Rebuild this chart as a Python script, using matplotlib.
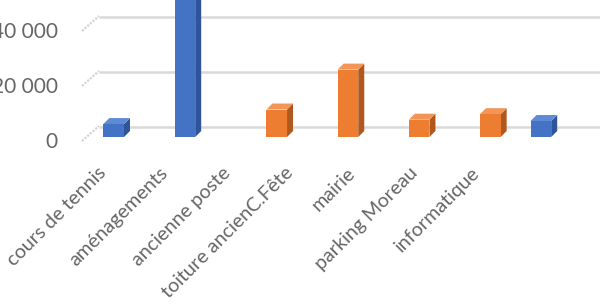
import matplotlib
matplotlib.use("Agg")
import matplotlib.pyplot as plt
import numpy as np
from matplotlib.transforms import ScaledTranslation

# ---- data ----
categories = ["cours de tennis", "aménagements", "ancienne poste",
              "toiture ancienC.Fête", "mairie", "parking Moreau", "informatique"]
blue_values = [4700, 56000, np.nan, np.nan, np.nan, np.nan, 5800]
orange_values = [np.nan, np.nan, 10000, 24500, 6300, 8300, np.nan]
y_ticks = [0, 20000, 40000]
y_tick_labels = ["0", "20 000", "40 000"]

BLUE = ("#4472C4", "#2E5597", "#5E8AD6")
ORANGE = ("#ED7D31", "#B0581E", "#F29556")
GRID = "#d9d9d9"
TXT = "#666666"
FONT = "Lato"

W, H = 600, 308
fig = plt.figure(figsize=(W / 100, H / 100), dpi=100)

# pixel scale helpers (category spacing ~71.2 px, 20000 units ~55 px)
px_x = 1 / 71.2
px_y = 20000 / 55.0
x0_px, base_px = 124.0, 137.0

ax = fig.add_axes([0, 0, 1, 1])
ax.set_xlim(-x0_px * px_x, (W - x0_px) * px_x)
ax.set_ylim(-(H - base_px) * px_y, base_px * px_y)
for s in ax.spines.values():
    s.set_visible(False)
ax.set_xticks([])
ax.set_yticks(y_ticks)
ax.set_yticklabels(y_tick_labels, fontsize=15, color=TXT, fontname=FONT)
ax.tick_params(axis="y", length=0, pad=-58 / 100 * 72)
for lab in ax.get_yticklabels():
    lab.set_transform(lab.get_transform() + ScaledTranslation(0, -3 / 100, fig.dpi_scale_trans))

# back-wall gridlines and side-wall diagonals
xl_back = (99 - x0_px) * px_x
xl_front = (82 - x0_px) * px_x
for v in y_ticks:
    ax.plot([xl_back, 10], [v + 10 * px_y] * 2, color=GRID, lw=1.8, zorder=1,
            solid_capstyle="butt")
    ax.plot([xl_front, xl_back], [v - 4 * px_y, v + 11 * px_y], color="#d4d4d4",
            lw=1.6, ls=(0, (1, 0.6)), zorder=1)

# 3D-ish bars
width = 0.29
off = 0.145
ddx = 6 * px_x
ddy = 6 * px_y


def draw_bars(values, shift, cols):
    xs = np.arange(len(values)) + shift
    ax.bar(xs, values, width=width, color=cols[0], zorder=3, linewidth=0)
    for x, h in zip(xs, values):
        if np.isnan(h):
            continue
        xl, xr = x - width / 2, x + width / 2
        ax.fill([xr, xr + ddx, xr + ddx, xr], [0, ddy, h + ddy, h],
                color=cols[1], zorder=2, lw=0)
        ax.fill([xl, xr, xr + ddx, xl + ddx], [h, h, h + ddy, h + ddy],
                color=cols[2], zorder=2, lw=0)


draw_bars(blue_values, -off, BLUE)
draw_bars(orange_values, off, ORANGE)

# category labels on a separate axis (perspective spacing ~62.3 px)
lab_x0 = 103.0
lab_sp = 62.3
ax2 = fig.add_axes([0, (H - 170) / H, 1, 0.001], frameon=False)
ax2.set_xlim(-lab_x0 / lab_sp, (W - lab_x0) / lab_sp)
ax2.set_yticks([])
ax2.set_xticks(np.arange(len(categories)))
ax2.set_xticklabels(categories, rotation=45, ha="right", va="center",
                    rotation_mode="anchor", fontsize=14.2, color=TXT, fontname=FONT)
ax2.tick_params(axis="x", length=0, pad=0)
ax2.patch.set_alpha(0)

fig.savefig("out.png", dpi=100)
